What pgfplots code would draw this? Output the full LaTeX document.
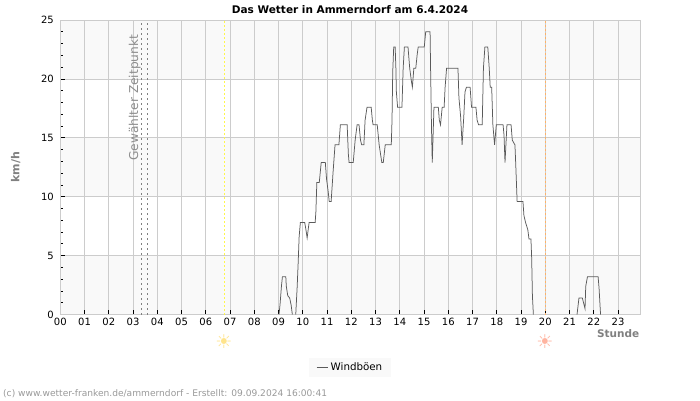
\documentclass[border=0pt]{standalone}
\usepackage{fontspec}
\setmainfont{DejaVu Sans}
\usepackage{pgfplots}
\pgfplotsset{compat=1.18}
\definecolor{gridgray}{HTML}{CCCCCC}
\definecolor{bandgray}{HTML}{F9F9F9}
\definecolor{windline}{HTML}{5A5A5A}
\definecolor{labelgray}{HTML}{808080}
\definecolor{sunrise}{HTML}{FFE48C}
\definecolor{sunset}{HTML}{FFB4A0}
\newfontfamily\symfont{DejaVu Sans}
\begin{document}
\begin{tikzpicture}
	\path (0pt,0pt) rectangle (700pt,400pt);
	\begin{axis}[
		at={(60.3pt,85.5pt)},
		anchor=south west,
		scale only axis,
		width=580pt,
		height=294.5pt,
		set layers,
		xmin=0, xmax=23.92,
		ymin=0, ymax=25,
		xtick={1,...,23},
		xticklabels={01,02,03,04,05,06,07,08,09,10,11,12,13,14,15,16,17,18,19,20,21,22,23},
		extra x ticks={0},
		extra x tick labels={00},
		extra x tick style={major tick length=0pt},
		ytick={5,10,15,20},
		extra y ticks={0,25},
		extra y tick style={major tick length=0pt},
		minor ytick={1,2,3,4,6,7,8,9,11,12,13,14,16,17,18,19,21,22,23,24},
		xtick pos=bottom,
		ytick pos=left,
		tick align=inside,
		major tick length=5pt,
		minor tick length=3pt,
		tick style={black, line width=0.7pt},
		xmajorgrids, ymajorgrids,
		grid style={gridgray, line width=0.8pt},
		axis line style={gridgray, line width=0.8pt},
		tick label style={font=\fontsize{10}{12}\selectfont, black},
		/pgf/number format/assume math mode=true,
		yticklabel style={xshift=-3pt},
		title={\textbf{Das Wetter in Ammerndorf am 6.4.2024}},
		title style={font=\fontsize{10.5}{12}\selectfont, at={(axis description cs:0.4995,1)}, yshift=-3.2pt},
		xlabel={\textbf{Stunde}},
		xlabel style={font=\fontsize{10.5}{12}\selectfont, text=labelgray, at={(axis description cs:1,0)}, anchor=north east, yshift=-11.8pt, xshift=2.5pt},
		ylabel={\textbf{km/h}},
		ylabel style={font=\fontsize{11}{13}\selectfont, text=labelgray, at={(axis description cs:-0.077,0.5)}, anchor=center},
		unbounded coords=jump,
		legend style={
			at={(axis description cs:0.4995,-0.18)},
			anchor=center,
			draw=none,
			fill=bandgray,
			font=\fontsize{10.3}{12}\selectfont,
			inner xsep=7pt, inner ysep=3pt,
		},
		legend cell align=left,
		legend image post style={xscale=0.65},
	]
		% alternating background bands
		\addplot[on layer=axis background, draw=none, fill=bandgray, forget plot] coordinates {(0,0) (23.92,0) (23.92,5) (0,5)} -- cycle;
		\addplot[on layer=axis background, draw=none, fill=bandgray, forget plot] coordinates {(0,10) (23.92,10) (23.92,15) (0,15)} -- cycle;
		\addplot[on layer=axis background, draw=none, fill=bandgray, forget plot] coordinates {(0,20) (23.92,20) (23.92,25) (0,25)} -- cycle;

		% selected time, sunrise and sunset
		\addplot[forget plot, labelgray, line width=0.8pt, dash pattern=on 1.2pt off 3.8pt] coordinates {(3.34,0) (3.34,25)};
		\addplot[forget plot, labelgray, line width=0.8pt, dash pattern=on 1.2pt off 3.8pt] coordinates {(3.59,0) (3.59,25)};
		\addplot[forget plot, yellow!70!white, line width=0.8pt, dash pattern=on 1.2pt off 2.8pt] coordinates {(6.76,0) (6.76,25)};
		\addplot[forget plot, orange!60, line width=0.8pt, dash pattern=on 2pt off 2pt] coordinates {(20,0) (20,25)};

		% wind gusts, gaps where the value stays at zero
		\addplot[forget plot, windline, line width=0.75pt] coordinates {
			(9.02,0) (9.06,0.8) (9.12,2.4) (9.16,3.2) (9.30,3.2) (9.32,2.4) (9.38,1.6) (9.46,1.4) (9.52,0.8) (9.57,0)
			(9.64,nan)
			(9.71,0) (9.77,2.4) (9.81,4.4) (9.85,6.6) (9.90,7.8) (10.08,7.8) (10.13,7.2) (10.18,6.5) (10.26,7.8)
			(10.51,7.8) (10.54,8.7) (10.58,11.2) (10.68,11.2) (10.76,12.9) (10.93,12.9) (10.98,11.5) (11.05,10.4)
			(11.09,9.6) (11.17,9.6) (11.25,12.1) (11.33,14.4) (11.49,14.4) (11.55,16.1) (11.83,16.1) (11.88,13.6)
			(11.91,12.9) (12.08,12.9) (12.16,14.8) (12.24,16.1) (12.32,16.1) (12.38,14.8) (12.43,14.4) (12.52,14.4)
			(12.57,16.5) (12.65,17.6) (12.82,17.6) (12.87,16.5) (12.90,16.1) (13.07,16.1) (13.15,14.4) (13.26,12.9)
			(13.32,12.9) (13.40,14.4) (13.65,14.4) (13.68,16.5) (13.71,20.6) (13.75,22.7) (13.81,22.7) (13.84,20.9)
			(13.86,18.9) (13.91,17.6) (14.09,17.6) (14.14,20.9) (14.19,22.7) (14.34,22.7) (14.41,20.9) (14.48,19.8)
			(14.52,19.3) (14.58,20.9) (14.66,20.9) (14.72,22.1) (14.76,22.7) (15.01,22.7) (15.07,24) (15.25,24)
			(15.27,21) (15.31,15.7) (15.34,12.9) (15.41,17.6) (15.59,17.6) (15.63,16.5) (15.68,16.1) (15.75,17.6)
			(15.83,17.6) (15.87,19.3) (15.93,20.9) (16.40,20.9) (16.44,18.4) (16.51,16.8) (16.57,14.4) (16.64,16.8)
			(16.69,18.9) (16.75,19.3) (16.90,19.3) (16.96,17.6) (17.14,17.6) (17.19,16.5) (17.25,16.1) (17.40,16.1)
			(17.45,20.9) (17.51,22.7) (17.63,22.7) (17.69,20.9) (17.73,19.3) (17.79,19.3) (17.84,16.1) (17.91,14.4)
			(17.98,16.1) (18.26,16.1) (18.30,15.2) (18.34,12.9) (18.42,16.1) (18.59,16.1) (18.64,14.8) (18.75,14.4)
			(18.78,12.9) (18.84,9.6) (19.08,9.6) (19.12,8.4) (19.19,7.8) (19.28,7.2) (19.33,6.4) (19.41,6.4)
			(19.44,4.8) (19.47,1.6) (19.51,0)
			(20.5,nan)
			(21.31,0) (21.39,1.4) (21.53,1.4) (21.64,0.5) (21.67,2.4) (21.74,3.2) (22.18,3.2) (22.22,2.2) (22.28,0)
		};
		\addlegendimage{windline, line width=1.8pt}
		\addlegendentry{Windböen}

		\node[rotate=90, text=labelgray!90, font=\fontsize{12.2}{14}\selectfont] at (axis cs:3.07,18.4) {Gewählter Zeitpunkt};
	\end{axis}
	% sun symbols below the hour labels
	\node[text=sunrise, font=\fontsize{19}{19}\selectfont\symfont] at (224pt,58.5pt) {☀};
	\node[text=sunset, font=\fontsize{19}{19}\selectfont\symfont] at (545pt,58.5pt) {☀};
	\node[anchor=west, text=black!40, font=\fontsize{9.1}{11}\selectfont, inner sep=0pt] at (3pt,6.5pt) {(c) www.wetter-franken.de/ammerndorf - Erstellt: 09.09.2024 16:00:41};
\end{tikzpicture}
\end{document}
